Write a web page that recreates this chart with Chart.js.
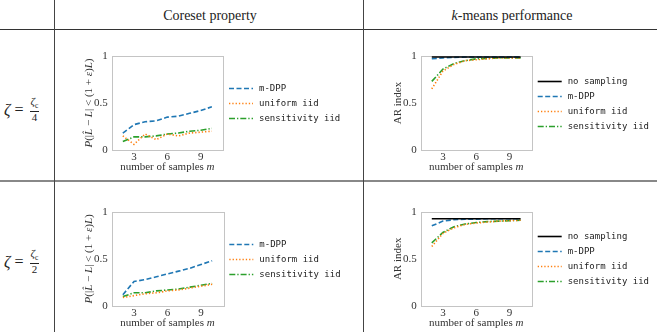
<!DOCTYPE html>
<html>
<head>
<meta charset="utf-8">
<script src="https://cdn.jsdelivr.net/npm/chart.js@4.4.0/dist/chart.umd.min.js"></script>
<style>
  body { margin: 0; width: 657px; height: 332px; overflow: hidden; position: relative; background: #fff;
         font-family: "Liberation Serif", "DejaVu Serif", serif; color: #222; }
  canvas { position: absolute; }
  .hl { position: absolute; left: 0; width: 657px; }
  .vl { position: absolute; top: 0; height: 332px; width: 1px; background: #444; }
  .hd { position: absolute; top: 8px; width: 300px; font-size: 14px; text-align: center; }
  .rl { position: absolute; left: 4px; height: 34px; font-size: 16px; display: flex; align-items: center; }
  .fr { display: inline-flex; flex-direction: column; align-items: center; font-size: 11px; line-height: 1.05; margin-left: 2px; }
  .fr .num { border-bottom: 0.8px solid #222; padding: 0 1px 1px; }
  .fr sub { font-size: 7.5px; }
</style>
</head>
<body>
<div class="hl" style="top:29px;height:1px;background:#333"></div>
<div class="hl" style="top:180px;height:2px;background:#888"></div>
<div class="vl" style="left:54px"></div>
<div class="vl" style="left:363px"></div>
<div class="hd" style="left:60px">Coreset property</div>
<div class="hd" style="left:362px"><i>k</i>-means performance</div>
<div class="rl" style="top:93px"><i>ζ</i>&nbsp;=&nbsp;<span class="fr"><span class="num"><i>ζ</i><sub>c</sub></span><span>4</span></span></div>
<div class="rl" style="top:245px"><i>ζ</i>&nbsp;=&nbsp;<span class="fr"><span class="num"><i>ζ</i><sub>c</sub></span><span>2</span></span></div>

<canvas id="tl" width="306" height="149" style="left:56px;top:30px"></canvas>
<canvas id="tr" width="293" height="149" style="left:364px;top:30px"></canvas>
<canvas id="bl" width="306" height="150" style="left:56px;top:182px"></canvas>
<canvas id="br" width="293" height="150" style="left:364px;top:182px"></canvas>

<script>
// number of samples m
const mValues = [2, 3, 4, 5, 6, 7, 8, 9, 10];
const xTicks = [3, 6, 9];
const yTicks = [0, 0.5, 1];

// zeta = zeta_c / 4 : coreset property
const coreDpp4  = [0.18, 0.27, 0.30, 0.31, 0.35, 0.36, 0.39, 0.42, 0.46];
const coreUnif4 = [0.15, 0.06, 0.17, 0.11, 0.17, 0.15, 0.18, 0.19, 0.20];
const coreSens4 = [0.09, 0.14, 0.14, 0.15, 0.17, 0.18, 0.20, 0.21, 0.23];
// zeta = zeta_c / 4 : AR index
const arNone4 = [0.99, 0.99, 0.99, 0.99, 0.99, 0.99, 0.99, 0.99, 0.99];
const arDpp4  = [0.97, 0.98, 0.985, 0.99, 0.99, 0.99, 0.99, 0.99, 0.99];
const arUnif4 = [0.65, 0.84, 0.91, 0.95, 0.96, 0.97, 0.98, 0.98, 0.98];
const arSens4 = [0.73, 0.86, 0.92, 0.95, 0.97, 0.975, 0.98, 0.98, 0.98];

// zeta = zeta_c / 2 : coreset property
const coreDpp2  = [0.12, 0.26, 0.28, 0.31, 0.34, 0.37, 0.40, 0.44, 0.48];
const coreUnif2 = [0.09, 0.11, 0.13, 0.14, 0.16, 0.17, 0.19, 0.21, 0.23];
const coreSens2 = [0.10, 0.14, 0.14, 0.16, 0.17, 0.18, 0.20, 0.22, 0.24];
// zeta = zeta_c / 2 : AR index
const arNone2 = [0.925, 0.925, 0.925, 0.925, 0.925, 0.925, 0.925, 0.925, 0.925];
const arDpp2  = [0.85, 0.90, 0.915, 0.92, 0.92, 0.925, 0.925, 0.925, 0.925];
const arUnif2 = [0.63, 0.77, 0.83, 0.865, 0.88, 0.89, 0.90, 0.905, 0.91];
const arSens2 = [0.67, 0.78, 0.84, 0.87, 0.885, 0.895, 0.90, 0.905, 0.91];

const SERIF = '"Liberation Serif", "DejaVu Serif", serif';
const MONO = '"DejaVu Sans Mono", "Liberation Mono", monospace';

const styles = {
  none: { label: 'no sampling',     color: '#000000', dash: [] },
  dpp:  { label: 'm-DPP',           color: '#1f77b4', dash: [5, 2.5] },
  unif: { label: 'uniform iid',     color: '#ff7f0e', dash: [1.3, 2] },
  sens: { label: 'sensitivity iid', color: '#2ca02c', dash: [6, 2, 1.3, 2] }
};

// light grey frame round the axes
const framePlugin = {
  id: 'frame',
  beforeDatasetsDraw(chart) {
    const a = chart.chartArea, ctx = chart.ctx;
    ctx.save();
    ctx.strokeStyle = '#c4c4c4';
    ctx.lineWidth = 1;
    ctx.strokeRect(Math.round(a.left) + 0.5, Math.round(a.top) + 0.5,
                   Math.round(a.right - a.left), Math.round(a.bottom - a.top));
    ctx.restore();
  }
};

// legend to the right of the axes, with line samples
const sideLegend = {
  id: 'sideLegend',
  afterDraw(chart) {
    const a = chart.chartArea, ctx = chart.ctx;
    const ds = chart.data.datasets;
    const gap = 15;
    const y0 = (a.top + a.bottom) / 2 - gap * (ds.length - 1) / 2;
    ctx.save();
    ctx.font = '9px ' + MONO;
    ctx.textBaseline = 'middle';
    ds.forEach((d, i) => {
      const y = Math.round(y0 + i * gap) + 0.5;
      ctx.strokeStyle = d.borderColor;
      ctx.lineWidth = 1.6;
      ctx.setLineDash(d.borderDash || []);
      ctx.beginPath();
      ctx.moveTo(a.right + 6, y);
      ctx.lineTo(a.right + 30, y);
      ctx.stroke();
      ctx.fillStyle = '#222';
      ctx.fillText(d.label, a.right + 36, y);
    });
    ctx.restore();
  }
};

// axis titles, with math parts in italic
const axisTitles = {
  id: 'axisTitles',
  afterDraw(chart, args, opts) {
    const a = chart.chartArea, ctx = chart.ctx;
    const draw = (parts, x, y) => {
      let w = 0;
      parts.forEach(p => { ctx.font = (p[1] ? 'italic ' : '') + '11px ' + SERIF; w += ctx.measureText(p[0]).width; });
      let cx = x - w / 2;
      parts.forEach(p => {
        ctx.font = (p[1] ? 'italic ' : '') + '11px ' + SERIF;
        ctx.fillText(p[0], cx, y);
        cx += ctx.measureText(p[0]).width;
      });
    };
    ctx.save();
    ctx.fillStyle = '#333';
    ctx.textBaseline = 'middle';
    draw([['number of samples ', false], ['m', true]], (a.left + a.right) / 2, a.bottom + 17);
    ctx.translate(a.left - opts.yOffset, (a.top + a.bottom) / 2);
    ctx.rotate(-Math.PI / 2);
    draw(opts.yTitle, 0, 0);
    ctx.restore();
  }
};

const coreTitle = [['P', true], ['(|', false], ['L\u0302', true], [' \u2212 ', false], ['L', true],
                   ['| < (1 + ', false], ['\u03b5', true], [')', false], ['L', true], [')', false]];
const arTitle = [['AR index', false]];

function makeChart(id, series, cfg) {
  return new Chart(document.getElementById(id), {
    type: 'line',
    data: {
      datasets: series.map(s => ({
        label: s.style.label,
        data: mValues.map((m, i) => ({ x: m, y: s.values[i] })),
        borderColor: s.style.color,
        borderDash: s.style.dash,
        borderWidth: 1.6,
        pointRadius: 0,
        fill: false,
        tension: 0
      }))
    },
    options: {
      responsive: false,
      animation: false,
      devicePixelRatio: 1,
      layout: { padding: cfg.pad },
      plugins: {
        legend: { display: false },
        tooltip: { enabled: false },
        axisTitles: { yTitle: cfg.yTitle, yOffset: cfg.yOffset }
      },
      scales: {
        x: {
          type: 'linear', min: 1, max: 11,
          afterBuildTicks: s => { s.ticks = xTicks.map(v => ({ value: v })); },
          afterFit: s => { s.height = cfg.xh; },
          grid: { display: false, drawTicks: false },
          border: { display: false },
          ticks: { padding: 1, autoSkip: false, color: '#333', font: { family: SERIF, size: 11 } }
        },
        y: {
          min: 0, max: 1,
          afterBuildTicks: s => { s.ticks = yTicks.map(v => ({ value: v })); },
          afterFit: s => { s.width = cfg.yw; },
          grid: { display: false, drawTicks: false },
          border: { display: false },
          ticks: { padding: 4, autoSkip: false, color: '#333', font: { family: SERIF, size: 11 },
                   callback: v => String(v) }
        }
      }
    },
    plugins: [framePlugin, sideLegend, axisTitles]
  });
}

makeChart('tl', [
  { style: styles.dpp, values: coreDpp4 },
  { style: styles.unif, values: coreUnif4 },
  { style: styles.sens, values: coreSens4 }
], { pad: { top: 26, right: 139, left: 0, bottom: 0 }, yw: 55.7, xh: 29, yTitle: coreTitle, yOffset: 22.5 });

makeChart('tr', [
  { style: styles.none, values: arNone4 },
  { style: styles.dpp, values: arDpp4 },
  { style: styles.unif, values: arUnif4 },
  { style: styles.sens, values: arSens4 }
], { pad: { top: 26, right: 125.3, left: 0, bottom: 0 }, yw: 56.7, xh: 29, yTitle: arTitle, yOffset: 23 });

makeChart('bl', [
  { style: styles.dpp, values: coreDpp2 },
  { style: styles.unif, values: coreUnif2 },
  { style: styles.sens, values: coreSens2 }
], { pad: { top: 29.7, right: 138.7, left: 0, bottom: 0 }, yw: 55.7, xh: 26, yTitle: coreTitle, yOffset: 22.5 });

makeChart('br', [
  { style: styles.none, values: arNone2 },
  { style: styles.dpp, values: arDpp2 },
  { style: styles.unif, values: arUnif2 },
  { style: styles.sens, values: arSens2 }
], { pad: { top: 29.7, right: 125.3, left: 0, bottom: 0 }, yw: 56.7, xh: 26, yTitle: arTitle, yOffset: 23 });
</script>
</body>
</html>
